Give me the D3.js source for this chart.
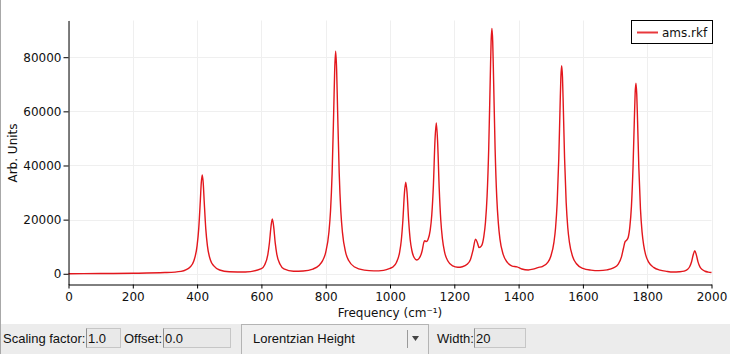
<!DOCTYPE html>
<html>
<head>
<meta charset="utf-8">
<script src="https://cdn.jsdelivr.net/npm/d3@7"></script>
<style>
  body { margin: 0; background: #fff; }
  svg { display: block; }
</style>
</head>
<body>
<svg id="chart" width="730" height="354"></svg>
<script>
// spectrum (frequency cm-1, arb. units)
const freqs = [
  0, 100, 200, 300, 350, 380, 390, 400, 405, 410, 413, 416, 419, 422, 427, 432, 442, 452, 470, 500,
  550, 600, 610, 620, 625, 630, 634, 638, 643, 648, 658, 670, 700, 730, 760, 780, 790, 800, 810, 815,
  820, 825, 828, 831, 834, 837, 842, 847, 852, 862, 872, 890, 920, 950, 980, 1000, 1010, 1020, 1030, 1035,
  1040, 1045, 1049, 1053, 1058, 1063, 1068, 1075, 1083, 1090, 1100, 1105, 1108, 1113, 1118, 1125, 1130, 1135, 1140, 1144,
  1148, 1153, 1158, 1163, 1170, 1180, 1195, 1211, 1225, 1240, 1250, 1258, 1266, 1272, 1277, 1285, 1292, 1297, 1302, 1307,
  1312, 1314.5, 1317, 1319.5, 1322, 1327, 1332, 1337, 1342, 1352, 1365, 1380, 1395, 1410, 1430, 1445, 1460, 1475, 1490, 1500,
  1510, 1515, 1520, 1525, 1529, 1531.5, 1534, 1536.5, 1539, 1543, 1548, 1553, 1558, 1568, 1580, 1600, 1625, 1650, 1675, 1695,
  1710, 1720, 1726, 1731, 1736, 1741, 1746, 1751, 1756, 1760, 1762.5, 1765, 1767.5, 1770, 1774, 1779, 1784, 1789, 1795, 1805,
  1820, 1840, 1860, 1880, 1900, 1915, 1925, 1932, 1938, 1943, 1948, 1953, 1958, 1964, 1971, 1980, 1990, 2000
];
const intensity = [
  30, 80, 180, 450, 900, 2700, 4800, 10400, 16600, 26900, 33600, 36500, 33600, 26900, 16600, 10400, 4900, 2900, 1400, 750,
  650, 1900, 3250, 7100, 11450, 17600, 20300, 17600, 11400, 7200, 3500, 1800, 950, 1050, 1750, 3150, 4750, 7900, 15350, 23200,
  37200, 60400, 75400, 82200, 75400, 60400, 37200, 23200, 15400, 7900, 4800, 2500, 1350, 1070, 1270, 2000, 2600, 4200, 8000, 12200,
  19600, 30000, 33800, 30000, 19700, 12400, 8600, 6000, 5100, 5600, 8500, 11500, 12200, 11900, 12600, 16000, 21800, 32700, 49500, 55700,
  49000, 31800, 19800, 13000, 7900, 4700, 2900, 2400, 2600, 3500, 5200, 8600, 12800, 11400, 9700, 10400, 13900, 19100, 28700, 46000,
  73100, 85800, 90600, 85700, 72900, 45800, 28400, 18700, 12800, 7150, 4200, 2800, 2550, 1750, 1400, 1700, 2300, 2750, 4100, 6400,
  11700, 17000, 26300, 42700, 61800, 72700, 76900, 72700, 61800, 42700, 26300, 17000, 11700, 6400, 3700, 2000, 1350, 1150, 1450, 2200,
  3600, 6260, 9340, 11800, 12400, 13500, 17300, 25000, 39700, 56800, 66700, 70400, 66300, 56500, 39200, 24000, 15500, 10600, 7100, 4200,
  2350, 1330, 900, 650, 750, 1000, 1600, 2600, 4450, 6950, 8500, 6900, 4400, 2550, 1550, 940, 630, 450
];
const xTicks = [0, 200, 400, 600, 800, 1000, 1200, 1400, 1600, 1800, 2000];
const yTicks = [0, 20000, 40000, 60000, 80000];
const seriesName = 'ams.rkf';

const data = freqs.map((f, i) => ({ f: f, v: intensity[i] }));

const svg = d3.select('#chart');
const font = 'DejaVu Sans, sans-serif';
const uiFont = 'Liberation Sans, Arial, sans-serif';

const plotLeft = 68.5, plotRight = 711.5, plotTop = 20.5, plotBottom = 284.5;

const x = d3.scaleLinear().domain([0, 2000]).range([plotLeft, plotRight]);
const y = d3.scaleLinear().domain([-3960, 93560]).range([plotBottom, plotTop]);

// left window edge
svg.append('line')
  .attr('x1', 0.5).attr('x2', 0.5).attr('y1', 0).attr('y2', 354)
  .attr('stroke', '#a8a8a8');

// grid
const grid = svg.append('g');
grid.selectAll('.vg').data(xTicks).enter().append('line')
  .attr('x1', d => Math.round(x(d)) + 0.5).attr('x2', d => Math.round(x(d)) + 0.5)
  .attr('y1', plotTop).attr('y2', plotBottom)
  .attr('stroke', '#efefef');
grid.selectAll('.hg').data(yTicks).enter().append('line')
  .attr('x1', plotLeft).attr('x2', plotRight)
  .attr('y1', d => Math.round(y(d)) + 0.5).attr('y2', d => Math.round(y(d)) + 0.5)
  .attr('stroke', '#efefef');

// spectrum
const line = d3.line()
  .x(d => x(d.f))
  .y(d => y(d.v))
  .curve(d3.curveMonotoneX);

svg.append('path')
  .datum(data)
  .attr('d', line)
  .attr('fill', 'none')
  .attr('stroke', '#e3171d')
  .attr('stroke-width', 1.4);

// axes
const xAxis = svg.append('g')
  .attr('transform', `translate(0,${plotBottom})`)
  .call(d3.axisBottom(x).tickValues(xTicks).tickFormat(d3.format('d')).tickSize(4).tickSizeOuter(0).tickPadding(4));
const yAxis = svg.append('g')
  .attr('transform', `translate(${plotLeft},0)`)
  .call(d3.axisLeft(y).tickValues(yTicks).tickFormat(d3.format('d')).tickSize(5).tickSizeOuter(0).tickPadding(2));

[xAxis, yAxis].forEach(a => {
  a.selectAll('text').style('font-family', font).style('font-size', '12px').attr('fill', '#111');
  a.selectAll('line').attr('stroke', '#000');
  a.select('.domain').attr('stroke', '#000');
});

// axis titles
svg.append('text')
  .attr('transform', 'translate(17,153) rotate(-90)')
  .attr('text-anchor', 'middle')
  .style('font-family', font).style('font-size', '12px')
  .attr('fill', '#111')
  .text('Arb. Units');

svg.append('text')
  .attr('x', 390).attr('y', 317)
  .attr('text-anchor', 'middle')
  .style('font-family', font).style('font-size', '12px')
  .attr('fill', '#111')
  .text('Frequency (cm⁻¹)');

// legend
const legend = svg.append('g');
legend.append('rect')
  .attr('x', 631.5).attr('y', 20.5).attr('width', 81).attr('height', 23)
  .attr('fill', '#fff').attr('stroke', '#000');
legend.append('line')
  .attr('x1', 637).attr('x2', 658).attr('y1', 32.5).attr('y2', 32.5)
  .attr('stroke', '#e8383c').attr('stroke-width', 2);
legend.append('text')
  .attr('x', 662).attr('y', 37)
  .style('font-family', font).style('font-size', '12px')
  .attr('fill', '#111')
  .text(seriesName);

// bottom control bar
const bar = svg.append('g');
bar.append('rect')
  .attr('x', 1).attr('y', 324).attr('width', 729).attr('height', 30)
  .attr('fill', '#ececec');

function field(x0, w, value) {
  bar.append('rect')
    .attr('x', x0 + 0.5).attr('y', 328.5).attr('width', w).attr('height', 19)
    .attr('fill', '#e9e9e9').attr('stroke', '#c6c6c6');
  bar.append('line')
    .attr('x1', x0 + 0.5).attr('x2', x0 + 0.5).attr('y1', 328.5).attr('y2', 347.5)
    .attr('stroke', '#8f8f8f');
  bar.append('text')
    .attr('x', x0 + 2).attr('y', 343)
    .style('font-family', uiFont).style('font-size', '13px')
    .attr('fill', '#111')
    .text(value);
}
function label(x0, t) {
  bar.append('text')
    .attr('x', x0).attr('y', 343)
    .style('font-family', uiFont).style('font-size', '13px')
    .attr('fill', '#111')
    .text(t);
}

label(3, 'Scaling factor:');
field(86, 34, '1.0');
label(124, 'Offset:');
field(163, 67, '0.0');

// combo box
bar.append('rect')
  .attr('x', 241.5).attr('y', 324.5).attr('width', 187).attr('height', 31)
  .attr('fill', '#efefef').attr('stroke', '#b4b4b4');
bar.append('line')
  .attr('x1', 407.5).attr('x2', 407.5).attr('y1', 330).attr('y2', 348)
  .attr('stroke', '#9a9a9a');
bar.append('path')
  .attr('d', 'M412,336 L419,336 L415.5,341 Z')
  .attr('fill', '#444');
label(253, 'Lorentzian Height');

label(437, 'Width:');
field(474, 51, '20');
</script>
</body>
</html>
